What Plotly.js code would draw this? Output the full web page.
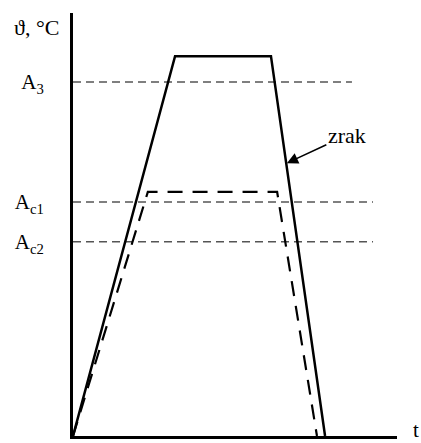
<!DOCTYPE html>
<html>
<head>
<meta charset="utf-8">
<script src="https://cdn.plot.ly/plotly-3.0.1.min.js"></script>
<style>html,body{margin:0;padding:0;background:#fff;}#chart{width:421px;height:443px;}</style>
</head>
<body>
<div id="chart"></div>
<script>
// Heating cycle in air (solid) and the second cycle (dashed)
const solidTime = [0, 31.5, 61.1, 77.8];
const solidTemp = [0, 89.8, 89.8, 0];
const dashedTime = [0, 23.1, 63.0, 75.3];
const dashedTemp = [0, 57.7, 57.7, 0];
// Critical temperatures
const levelNames = ['A<sub>3</sub>', 'A<sub>c1</sub>', 'A<sub>c2</sub>'];
const levelValues = [83.7, 55.3, 45.9];
const levelEnds = [86.1, 92.6, 92.6];
// Annotation on the solid curve
const arrowPoint = [66.0, 64.5];
const arrowLabel = 'zrak';
const yTitle = 'ϑ, °C';
const xTitle = 't';

const serif = 'Liberation Serif, Times New Roman, serif';
const traces = [];
levelValues.forEach((v, i) => {
  traces.push({
    x: [0, levelEnds[i]], y: [v, v], mode: 'lines', hoverinfo: 'skip',
    line: {color: '#555', width: 1.5, dash: '8px,5px'}
  });
});
traces.push({
  x: dashedTime, y: dashedTemp, mode: 'lines',
  line: {color: '#000', width: 2.2, dash: '15px,10px'}
});
traces.push({
  x: solidTime, y: solidTemp, mode: 'lines',
  line: {color: '#000', width: 2.5}
});

const layout = {
  width: 421, height: 443,
  margin: {l: 73, r: 24, t: 13, b: 7},
  showlegend: false,
  paper_bgcolor: '#fff', plot_bgcolor: '#fff',
  font: {family: serif, size: 21, color: '#000'},
  xaxis: {
    range: [0, 100], showgrid: false, zeroline: false, showticklabels: false,
    ticks: '', showline: true, linecolor: '#000', linewidth: 3
  },
  yaxis: {
    range: [0, 100], showgrid: false, zeroline: false,
    tickvals: levelValues, ticktext: levelNames, ticks: '',
    ticklabelstandoff: 22,
    tickfont: {family: serif, size: 21, color: '#000'},
    showline: true, linecolor: '#000', linewidth: 3
  },
  annotations: [
    {
      x: arrowPoint[0], y: arrowPoint[1], xref: 'x', yref: 'y',
      text: arrowLabel, showarrow: true, arrowhead: 2, arrowsize: 1.5, arrowwidth: 1.5,
      arrowcolor: '#000', ax: 60, ay: -28,
      font: {family: serif, size: 22, color: '#000'}
    },
    {
      x: -0.112, y: 0.965, xref: 'paper', yref: 'paper', text: yTitle, showarrow: false,
      xanchor: 'center', yanchor: 'middle',
      font: {family: serif, size: 22, color: '#000'}
    },
    {
      x: 1.058, y: 0.0, xref: 'paper', yref: 'paper', text: xTitle, showarrow: false,
      xanchor: 'center', yanchor: 'bottom', yshift: -8,
      font: {family: serif, size: 21, color: '#000'}
    }
  ]
};
Plotly.newPlot('chart', traces, layout, {displayModeBar: false, staticPlot: true});
</script>
</body>
</html>
